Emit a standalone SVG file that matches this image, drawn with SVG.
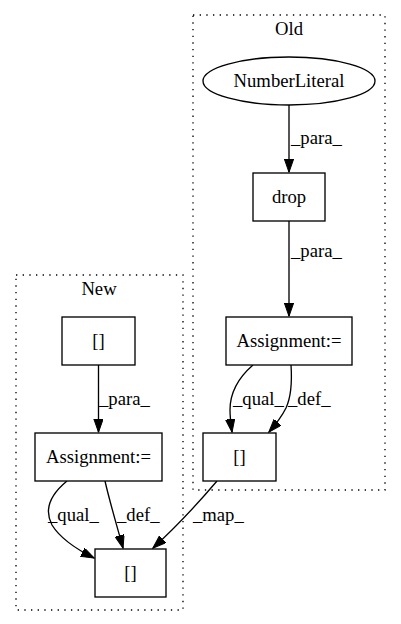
<svg xmlns="http://www.w3.org/2000/svg" width="401" height="624" viewBox="0 0 401 624" font-family="'Liberation Serif', 'DejaVu Serif', serif">
<style>
text{font-family:'Liberation Serif','DejaVu Serif',serif;font-size:18.67px;fill:#000}
.c{text-anchor:middle}
.cl{fill:none;stroke:#000;stroke-width:1.33;stroke-dasharray:1.33,5.33}
.n{fill:#fff;stroke:#000;stroke-width:1.33}
.e{fill:none;stroke:#000;stroke-width:1.33;marker-end:url(#ah)}
</style>
<defs>
<marker id="ah" markerUnits="userSpaceOnUse" markerWidth="14" markerHeight="10" refX="13" refY="4.65" orient="auto">
<path d="M0,0 L13.3,4.65 L0,9.3 z" fill="#000" stroke="#000" stroke-width="1"/>
</marker>
</defs>
<rect width="401" height="624" fill="#fff"/>
<g id="cluster_old">
<rect class="cl" x="193" y="15" width="192" height="475"/>
<text class="c" x="289" y="35">Old</text>
</g>
<g id="cluster_new">
<rect class="cl" x="16" y="275" width="167" height="335"/>
<text class="c" x="99" y="295">New</text>
</g>
<g id="edges">
<path class="e" d="M289,105 L289,172"/>
<text x="291" y="144">_para_</text>
<path class="e" d="M289,221 L289,316"/>
<text x="291" y="257">_para_</text>
<path class="e" d="M253,365 C238,378 230,392 230,410 C230,418 231,425 232,432"/>
<text x="233" y="405">_qual_</text>
<path class="e" d="M291,365 C292,380 292,395 286,408 C282,416 276,424 269,432"/>
<text x="288" y="405">_def_</text>
<path class="e" d="M98.5,365 L98.5,432"/>
<text x="99" y="405">_para_</text>
<path class="e" d="M67,481 C50,495 44,510 52,525 C60,538 78,550 94,558"/>
<text x="48" y="521">_qual_</text>
<path class="e" d="M105,481 C110,503 117,526 123,548"/>
<text x="117" y="521">_def_</text>
<path class="e" d="M217,481 C200,501 176,527 153,548"/>
<text x="193" y="521">_map_</text>
</g>
<g id="numberliteral">
<ellipse class="n" cx="289" cy="81" rx="86" ry="24"/>
<text class="c" x="289" y="87">NumberLiteral</text>
</g>
<g id="drop">
<rect class="n" x="253" y="173" width="72" height="48"/>
<text class="c" x="289" y="203">drop</text>
</g>
<g id="old_assignment">
<rect class="n" x="226" y="317" width="126" height="48"/>
<text class="c" x="289" y="347">Assignment:=</text>
</g>
<g id="old_index">
<rect class="n" x="203" y="433" width="73" height="48"/>
<text class="c" x="239.5" y="463">[]</text>
</g>
<g id="new_index_top">
<rect class="n" x="62" y="317" width="73" height="48"/>
<text class="c" x="98.5" y="347">[]</text>
</g>
<g id="new_assignment">
<rect class="n" x="35" y="433" width="127" height="48"/>
<text class="c" x="98.5" y="463">Assignment:=</text>
</g>
<g id="new_index_bottom">
<rect class="n" x="95" y="549" width="71" height="48"/>
<text class="c" x="130.5" y="579">[]</text>
</g>
</svg>
